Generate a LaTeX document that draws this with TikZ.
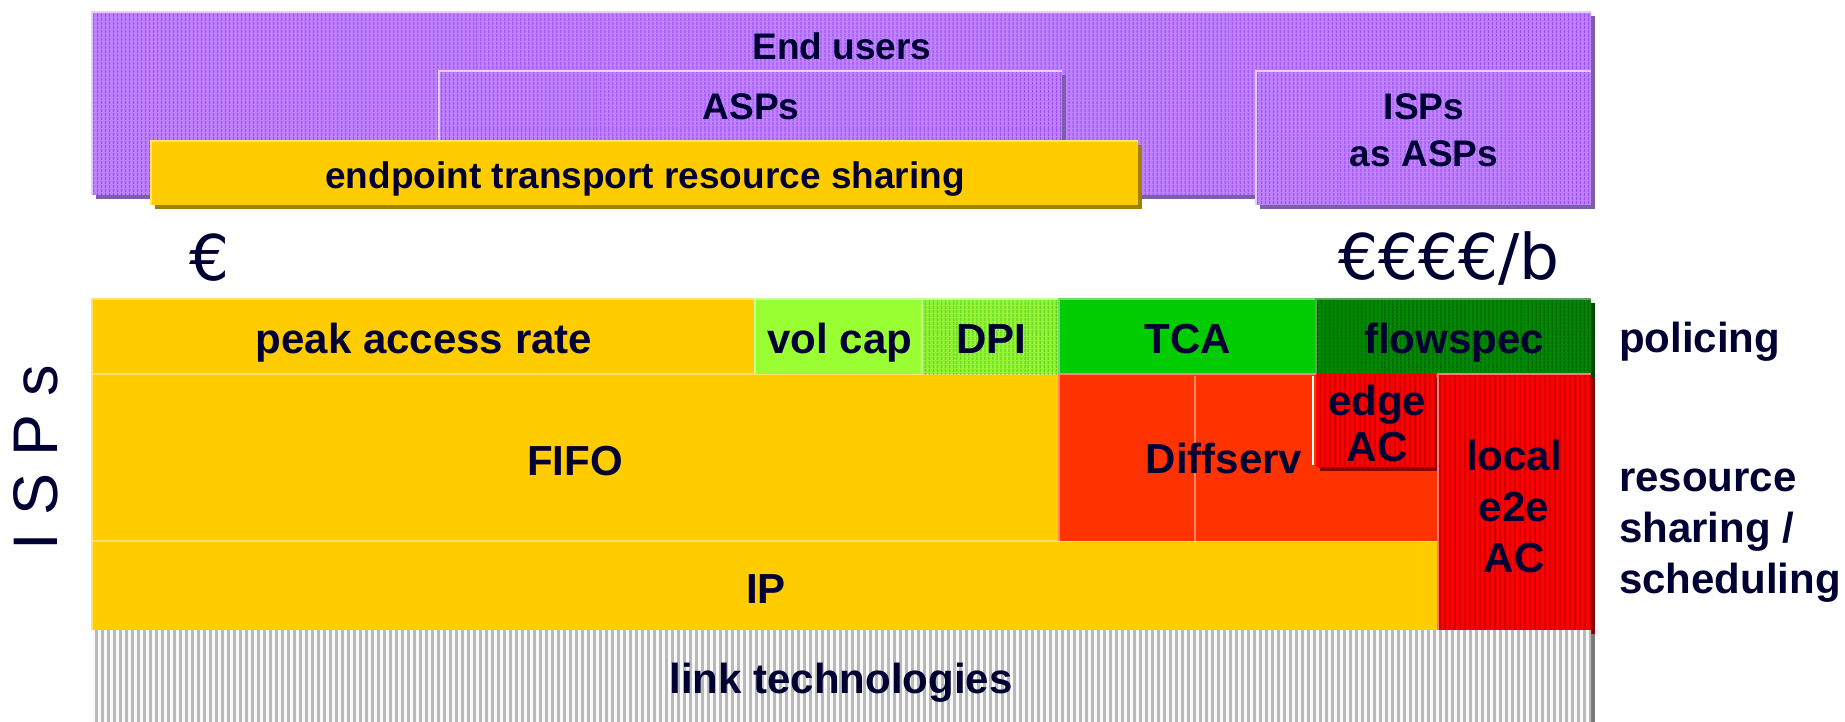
\documentclass[tikz,border=0pt]{standalone}
\usepackage{fontspec}
\setmainfont{Liberation Sans}
\newfontfamily\eurofont{DejaVu Sans}
\usetikzlibrary{patterns.meta}
\definecolor{ink}{RGB}{0,0,51}
\definecolor{purA}{RGB}{192,130,255}
\definecolor{purB}{RGB}{156,80,245}
\definecolor{purLine}{RGB}{226,206,255}
\definecolor{purShadow}{RGB}{125,95,165}
\definecolor{gold}{RGB}{255,204,0}
\definecolor{goldLine}{RGB}{255,226,110}
\definecolor{goldShadow}{RGB}{160,128,0}
\definecolor{lime}{RGB}{153,255,51}
\definecolor{limeLine}{RGB}{200,255,150}
\definecolor{dpiA}{RGB}{150,245,50}
\definecolor{dpiB}{RGB}{100,215,40}
\definecolor{tca}{RGB}{0,204,0}
\definecolor{tcaLine}{RGB}{110,220,110}
\definecolor{flowA}{RGB}{0,135,0}
\definecolor{flowB}{RGB}{0,98,0}
\definecolor{flowLine}{RGB}{100,160,100}
\definecolor{flowShadow}{RGB}{0,70,0}
\definecolor{diff}{RGB}{255,51,0}
\definecolor{diffLine}{RGB}{255,135,105}
\definecolor{redA}{RGB}{255,0,0}
\definecolor{redB}{RGB}{215,0,0}
\definecolor{redLine}{RGB}{255,120,120}
\definecolor{redShadow}{RGB}{140,0,0}
\definecolor{greyA}{RGB}{250,250,250}
\definecolor{greyB}{RGB}{185,185,185}
\definecolor{greyShadow}{RGB}{120,120,120}
\begin{document}
\begin{tikzpicture}[x=1pt,y=-1pt,
  stripes/.style n args={4}{preaction={fill=#1},
    pattern={Lines[angle=90,distance=#3,line width=#4]}, pattern color=#2},
  purbox/.style={stripes={purA}{purB}{4pt}{1.6pt}},
  redbox/.style={stripes={redA}{redB}{5pt}{2.2pt}},
  edgeline/.style={line width=2.5pt},
  toptxt/.style={font=\bfseries\fontsize{37}{47}\selectfont, text=ink, align=center, inner sep=0pt},
  bigtxt/.style={font=\bfseries\fontsize{42}{50}\selectfont, text=ink, align=center, inner sep=0pt},
  euro/.style={font=\eurofont\fontsize{63}{70}\selectfont, text=ink, inner sep=0pt},
  sidetxt/.style={font=\fontsize{63}{70}\selectfont, text=ink, inner sep=0pt}]
\useasboundingbox (0,0) rectangle (1845,722);

% ---------- top: end users ----------
\fill[purShadow] (96,16) rectangle (1595,199);
\path[purbox] (92,12) rectangle (1591,195);
\draw[purLine, edgeline] (92,195) -- (92,12) -- (1591,12);

\fill[purShadow] (443,75) rectangle (1066,199);
\path[purbox] (439,71) rectangle (1062,195);
\draw[purLine, edgeline] (439,195) -- (439,71) -- (1062,71);

\fill[purShadow] (1260,75) rectangle (1595,209);
\path[purbox] (1256,71) rectangle (1591,205);
\draw[purLine, edgeline] (1256,205) -- (1256,71) -- (1591,71);

\fill[goldShadow] (155,145) rectangle (1142,209);
\fill[gold] (151,141) rectangle (1138,205);
\draw[goldLine, edgeline] (151,205) -- (151,141) -- (1138,141);

\node[toptxt, anchor=base] (endusers) at (842,60) {End users};
\node[toptxt, anchor=base] (asps) at (751,120) {ASPs};
\node[toptxt] (ispsasps) at (1424,130) {ISPs\\as ASPs};
\node[toptxt, anchor=base] (endpoint) at (645,189) {endpoint transport resource sharing};

% ---------- prices ----------
\node[euro] (euroA) at (210,258) {€};
\node[euro] (euroB) at (1449,258) {€€€€/b};

% ---------- ISPs ----------
\fill[gold] (92,299) rectangle (1059,541);
\fill[gold] (92,541) rectangle (1441,630);
\draw[goldLine, edgeline] (92,630) -- (92,299) -- (755,299);
\draw[goldLine, edgeline] (92,374) -- (1059,374);
\draw[goldLine, edgeline] (92,541) -- (1438,541);

\fill[lime] (755,299) rectangle (922,374);
\draw[limeLine, edgeline] (755,374) -- (755,299) -- (922,299);

\path[stripes={dpiA}{dpiB}{4pt}{1.6pt}] (922,299) rectangle (1059,374);
\draw[limeLine, edgeline] (922,374) -- (922,299) -- (1059,299);

\fill[tca] (1059,299) rectangle (1316,374);
\draw[tcaLine, edgeline] (1059,374) -- (1059,299) -- (1316,299);

\fill[flowShadow] (1320,303) rectangle (1595,378);
\path[stripes={flowA}{flowB}{4pt}{1.6pt}] (1316,299) rectangle (1591,374);
\draw[flowLine, edgeline] (1316,374) -- (1316,299) -- (1591,299);

\fill[diff] (1059,374) rectangle (1438,541);
\draw[diffLine, edgeline] (1059,541) -- (1059,374) -- (1316,374);
\draw[diffLine, edgeline] (1195,376) -- (1195,541);

\fill[redShadow] (1320,378) rectangle (1440,471);
\path[redbox] (1316,374) rectangle (1436,467);
\draw[white, line width=1.5pt] (1313,376) -- (1313,465);

\fill[redShadow] (1442,378) rectangle (1595,634);
\path[redbox] (1438,374) rectangle (1591,630);
\draw[redLine, edgeline] (1438,630) -- (1438,374) -- (1591,374);

\fill[greyShadow] (1591,634) rectangle (1595,722);
\path[stripes={greyA}{greyB}{6pt}{3pt}] (92,630) rectangle (1591,722);

\node[bigtxt, anchor=base] (peak) at (424,353) {peak access rate};
\node[bigtxt, anchor=base] (volcap) at (840,353) {vol cap};
\node[bigtxt, anchor=base] (dpi) at (991,353) {DPI};
\node[bigtxt, anchor=base] (tcatxt) at (1188,353) {TCA};
\node[bigtxt, anchor=base] (flowspec) at (1454,353) {flowspec};
\node[bigtxt, anchor=base] (fifo) at (575,475) {FIFO};
\node[bigtxt, anchor=base] (diffserv) at (1224,473) {Diffserv};
\node[bigtxt, font=\bfseries\fontsize{42}{46}\selectfont] (edgeac) at (1377,423) {edge\\AC};
\node[bigtxt, font=\bfseries\fontsize{42}{51}\selectfont] (local) at (1514,506) {local\\e2e\\AC};
\node[bigtxt, anchor=base] (ip) at (766,603) {IP};
\node[bigtxt, anchor=base] (link) at (841,693) {link technologies};

\node[sidetxt, rotate=90] (isps) at (36,458) {I S P s};

\node[bigtxt, anchor=base west] (policing) at (1619,352) {policing};
\node[bigtxt, align=left, anchor=west, font=\bfseries\fontsize{42}{51}\selectfont] (sharing) at (1619,536) {resource\\sharing /\\scheduling};
\end{tikzpicture}
\end{document}
